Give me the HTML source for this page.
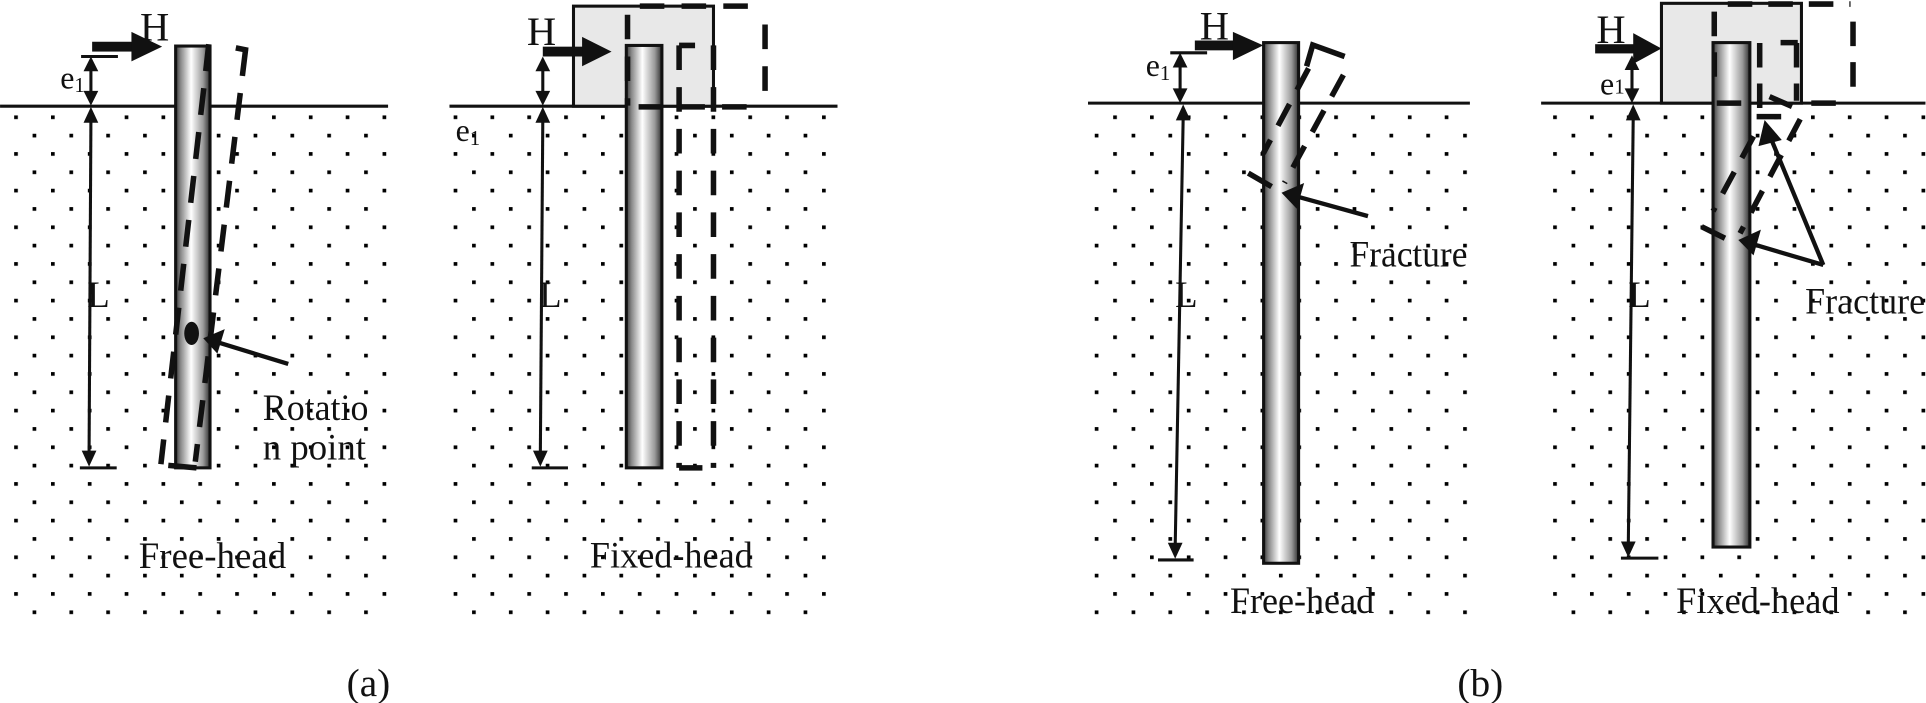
<!DOCTYPE html>
<html><head><meta charset="utf-8"><style>
html,body{margin:0;padding:0;background:#fff;}
svg{display:block;}
text{font-family:"Liberation Serif",serif;fill:#111;}
</style></head><body>
<svg width="1926" height="703" viewBox="0 0 1568.4 572.5" xmlns="http://www.w3.org/2000/svg">
<defs>
<linearGradient id="pg" x1="0" x2="1" y1="0" y2="0">
<stop offset="0" stop-color="#3a3a3a"/><stop offset="0.15" stop-color="#8a8a8a"/><stop offset="0.45" stop-color="#ffffff"/><stop offset="0.8" stop-color="#9a9a9a"/><stop offset="1" stop-color="#2e2e2e"/>
</linearGradient>
<pattern id="d1" patternUnits="userSpaceOnUse" x="11.5" y="94" width="30" height="29.86"><rect x="0" y="0" width="3" height="3" fill="#000"/><rect x="15" y="14.93" width="3" height="3" fill="#000"/></pattern>
<pattern id="d2" patternUnits="userSpaceOnUse" x="369.4" y="94" width="30" height="29.86"><rect x="0" y="0" width="3" height="3" fill="#000"/><rect x="15" y="14.93" width="3" height="3" fill="#000"/></pattern>
<pattern id="d3" patternUnits="userSpaceOnUse" x="906.5" y="94" width="30" height="29.86"><rect x="0" y="0" width="3" height="3" fill="#000"/><rect x="-15" y="14.93" width="3" height="3" fill="#000"/><rect x="15" y="14.93" width="3" height="3" fill="#000"/></pattern>
<pattern id="d4" patternUnits="userSpaceOnUse" x="1264.8" y="94" width="30" height="29.86"><rect x="0" y="0" width="3" height="3" fill="#000"/><rect x="15" y="14.93" width="3" height="3" fill="#000"/></pattern>
</defs>

<rect x="10" y="92" width="306" height="409" fill="url(#d1)"/>
<rect x="368" y="92" width="306" height="409" fill="url(#d2)"/>
<rect x="890" y="92" width="306" height="409" fill="url(#d3)"/>
<rect x="1262" y="92" width="306" height="409" fill="url(#d4)"/>

<g stroke="#111" stroke-width="2.5" fill="none">
<line x1="0" y1="86.5" x2="316" y2="86.5"/>
<line x1="366" y1="86.5" x2="682" y2="86.5"/>
<line x1="886" y1="84" x2="1197" y2="84"/>
<line x1="1255" y1="84" x2="1568" y2="84"/>
</g>

<!-- Panel 1 -->
<rect x="143" y="37.5" width="28" height="343.5" fill="url(#pg)" stroke="#111" stroke-width="2.5"/>
<g stroke="#111" stroke-width="4.5" stroke-dasharray="22 14" fill="none">
<line x1="170" y1="36" x2="131" y2="378"/>
<line x1="200" y1="40" x2="159" y2="376"/>
</g>
<line x1="192" y1="39" x2="202" y2="41" stroke="#111" stroke-width="4.5"/>
<line x1="137" y1="379" x2="160" y2="381" stroke="#111" stroke-width="4.5"/>
<ellipse cx="156" cy="271.5" rx="6" ry="9.5" fill="#111"/>
<line x1="234.7" y1="296.4" x2="178" y2="279" stroke="#111" stroke-width="3.5"/>
<polygon points="165.5,275.5 183,268 177,288" fill="#111"/>
<text x="214" y="342" font-size="30" textLength="86" lengthAdjust="spacingAndGlyphs">Rotatio</text>
<text x="214" y="374" font-size="30" textLength="84" lengthAdjust="spacingAndGlyphs">n point</text>
<rect x="75" y="34" width="35" height="8" fill="#111"/>
<polygon points="107,26 132,38 107,50" fill="#111"/>
<text x="114" y="33" font-size="33">H</text>
<line x1="66" y1="46" x2="96" y2="46" stroke="#111" stroke-width="2.5"/>
<line x1="74" y1="55" x2="74" y2="77" stroke="#111" stroke-width="2.5"/>
<polygon points="74,46 68,58 80,58" fill="#111"/><polygon points="74,86 68,74 80,74" fill="#111"/>
<text x="49" y="72" font-size="26">e<tspan font-size="17" dy="3">1</tspan></text>
<line x1="74" y1="98" x2="72.5" y2="370" stroke="#111" stroke-width="2.5"/>
<polygon points="74,87 68,100 80,100" fill="#111"/><polygon points="72.5,380 66.5,367 78.5,367" fill="#111"/>
<line x1="65" y1="381" x2="95" y2="381" stroke="#111" stroke-width="2.5"/>
<text x="71" y="250" font-size="30">L</text>
<text x="113" y="462.5" font-size="30" textLength="120" lengthAdjust="spacingAndGlyphs">Free-head</text>

<!-- Panel 2 -->
<rect x="467" y="5" width="114" height="81.5" fill="#e8e8e8" stroke="#111" stroke-width="2.5"/>
<rect x="510" y="37" width="29" height="344" fill="url(#pg)" stroke="#111" stroke-width="2.5"/>
<g stroke="#111" stroke-width="4.5" stroke-dasharray="20 14" fill="none">
<line x1="511" y1="12" x2="511" y2="86"/>
<line x1="521" y1="5" x2="622" y2="5"/>
<line x1="623" y1="20" x2="623" y2="82"/>
<line x1="520" y1="87" x2="612" y2="87"/>
<line x1="553" y1="37" x2="553" y2="381"/>
<line x1="581" y1="37" x2="581" y2="381"/>
<line x1="553" y1="37" x2="566" y2="37"/>
<line x1="553" y1="381" x2="572" y2="381"/>
</g>
<rect x="442" y="38" width="34" height="8" fill="#111"/>
<polygon points="474,30 498,42 474,54" fill="#111"/>
<text x="429" y="36.6" font-size="33">H</text>
<line x1="442" y1="56" x2="442" y2="76" stroke="#111" stroke-width="2.5"/>
<polygon points="442,46 436,58 448,58" fill="#111"/><polygon points="442,86 436,74 448,74" fill="#111"/>
<text x="371" y="115" font-size="26">e<tspan font-size="17" dy="3">1</tspan></text>
<line x1="442" y1="98" x2="440" y2="370" stroke="#111" stroke-width="2.5"/>
<polygon points="442,87 436,100 448,100" fill="#111"/><polygon points="440,380 434,367 446,367" fill="#111"/>
<line x1="433" y1="381" x2="462.5" y2="381" stroke="#111" stroke-width="2.5"/>
<text x="439" y="250" font-size="30">L</text>
<text x="480.4" y="462.3" font-size="30" textLength="132.6" lengthAdjust="spacingAndGlyphs">Fixed-head</text>
<text x="300" y="567" font-size="32" text-anchor="middle">(a)</text>

<!-- Panel 3 -->
<rect x="1029" y="34.7" width="28.5" height="424" fill="url(#pg)" stroke="#111" stroke-width="2.5"/>
<g stroke="#111" stroke-width="4.5" stroke-dasharray="20 13" fill="none">
<line x1="1065.6" y1="55.6" x2="1028.7" y2="125"/>
<line x1="1094" y1="61" x2="1046" y2="149"/>
</g>
<polyline points="1064,54 1069,36.6 1095,46" stroke="#111" stroke-width="4.5" fill="none"/>
<line x1="1016.5" y1="141" x2="1035.5" y2="152" stroke="#111" stroke-width="4.5"/>
<line x1="1114" y1="176" x2="1056" y2="160" stroke="#111" stroke-width="3.5"/>
<polygon points="1043.6,157 1062,149 1056,170" fill="#111"/>
<text x="1099" y="217" font-size="30" textLength="96" lengthAdjust="spacingAndGlyphs">Fracture</text>
<rect x="973" y="33" width="34" height="8" fill="#111"/>
<polygon points="1004,26 1028.7,37 1004,49" fill="#111"/>
<text x="977" y="32" font-size="33">H</text>
<line x1="953" y1="43" x2="983" y2="43" stroke="#111" stroke-width="2.5"/>
<line x1="961" y1="53" x2="961" y2="74" stroke="#111" stroke-width="2.5"/>
<polygon points="961,43 955,55 967,55" fill="#111"/><polygon points="961,84 955,72 967,72" fill="#111"/>
<text x="933" y="62" font-size="26">e<tspan font-size="17" dy="3">1</tspan></text>
<line x1="963.5" y1="96" x2="957" y2="445" stroke="#111" stroke-width="2.5"/>
<polygon points="963.5,85 957.5,98 969.5,98" fill="#111"/><polygon points="957,455 951,442 963,442" fill="#111"/>
<line x1="943" y1="456" x2="972" y2="456" stroke="#111" stroke-width="2.5"/>
<text x="957" y="250" font-size="30">L</text>
<text x="1001.6" y="499.4" font-size="30" textLength="117.4" lengthAdjust="spacingAndGlyphs">Free-head</text>
<text x="1205.5" y="567" font-size="32" text-anchor="middle">(b)</text>

<!-- Panel 4 -->
<rect x="1353" y="2.7" width="114" height="81.3" fill="#e8e8e8" stroke="#111" stroke-width="2.5"/>
<rect x="1395" y="34.7" width="30" height="410.8" fill="url(#pg)" stroke="#111" stroke-width="2.5"/>
<g stroke="#111" stroke-width="4.5" stroke-dasharray="20 13" fill="none">
<line x1="1396" y1="9.5" x2="1396" y2="72"/>
<line x1="1407" y1="3.3" x2="1507" y2="3.3"/>
<line x1="1509" y1="17.6" x2="1509" y2="79"/>
<line x1="1475" y1="84" x2="1496" y2="84"/>
<line x1="1398" y1="84" x2="1420" y2="84"/>
<line x1="1433" y1="35" x2="1433" y2="98"/>
<line x1="1463" y1="35" x2="1463" y2="82"/>
<line x1="1450" y1="34.7" x2="1464" y2="34.7"/>
<line x1="1430.5" y1="95" x2="1455" y2="95"/>
<line x1="1441" y1="78.7" x2="1466" y2="89.6"/>
<line x1="1466" y1="97" x2="1417" y2="190"/>
<line x1="1428" y1="111" x2="1395" y2="172"/>
</g>
<line x1="1385.7" y1="184.6" x2="1404.7" y2="194" stroke="#111" stroke-width="4.5"/>
<line x1="1484.8" y1="215.8" x2="1441" y2="110" stroke="#111" stroke-width="3.5"/>
<polygon points="1437,97.7 1451,114 1432,119" fill="#111"/>
<line x1="1484.8" y1="215.8" x2="1428" y2="199" stroke="#111" stroke-width="3.5"/>
<polygon points="1415.6,195.4 1434,187 1428,208" fill="#111"/>
<text x="1470" y="255.2" font-size="30" textLength="97.7" lengthAdjust="spacingAndGlyphs">Fracture</text>
<rect x="1299" y="36" width="34" height="7.5" fill="#111"/>
<polygon points="1330,27 1353,39.5 1330,52" fill="#111"/>
<text x="1300" y="35" font-size="33">H</text>
<line x1="1329" y1="55" x2="1329" y2="74" stroke="#111" stroke-width="2.5"/>
<polygon points="1329,45 1323,57 1335,57" fill="#111"/><polygon points="1329,84 1323,72 1335,72" fill="#111"/>
<text x="1303" y="77" font-size="26">e<tspan font-size="17" dy="-1">1</tspan></text>
<line x1="1330" y1="96" x2="1326" y2="444" stroke="#111" stroke-width="2.5"/>
<polygon points="1330,85 1324,98 1336,98" fill="#111"/><polygon points="1326,454 1320,441 1332,441" fill="#111"/>
<line x1="1320" y1="454.5" x2="1350.5" y2="454.5" stroke="#111" stroke-width="2.5"/>
<text x="1326" y="250" font-size="30">L</text>
<text x="1365" y="499.4" font-size="30" textLength="133" lengthAdjust="spacingAndGlyphs">Fixed-head</text>
</svg>
</body></html>
